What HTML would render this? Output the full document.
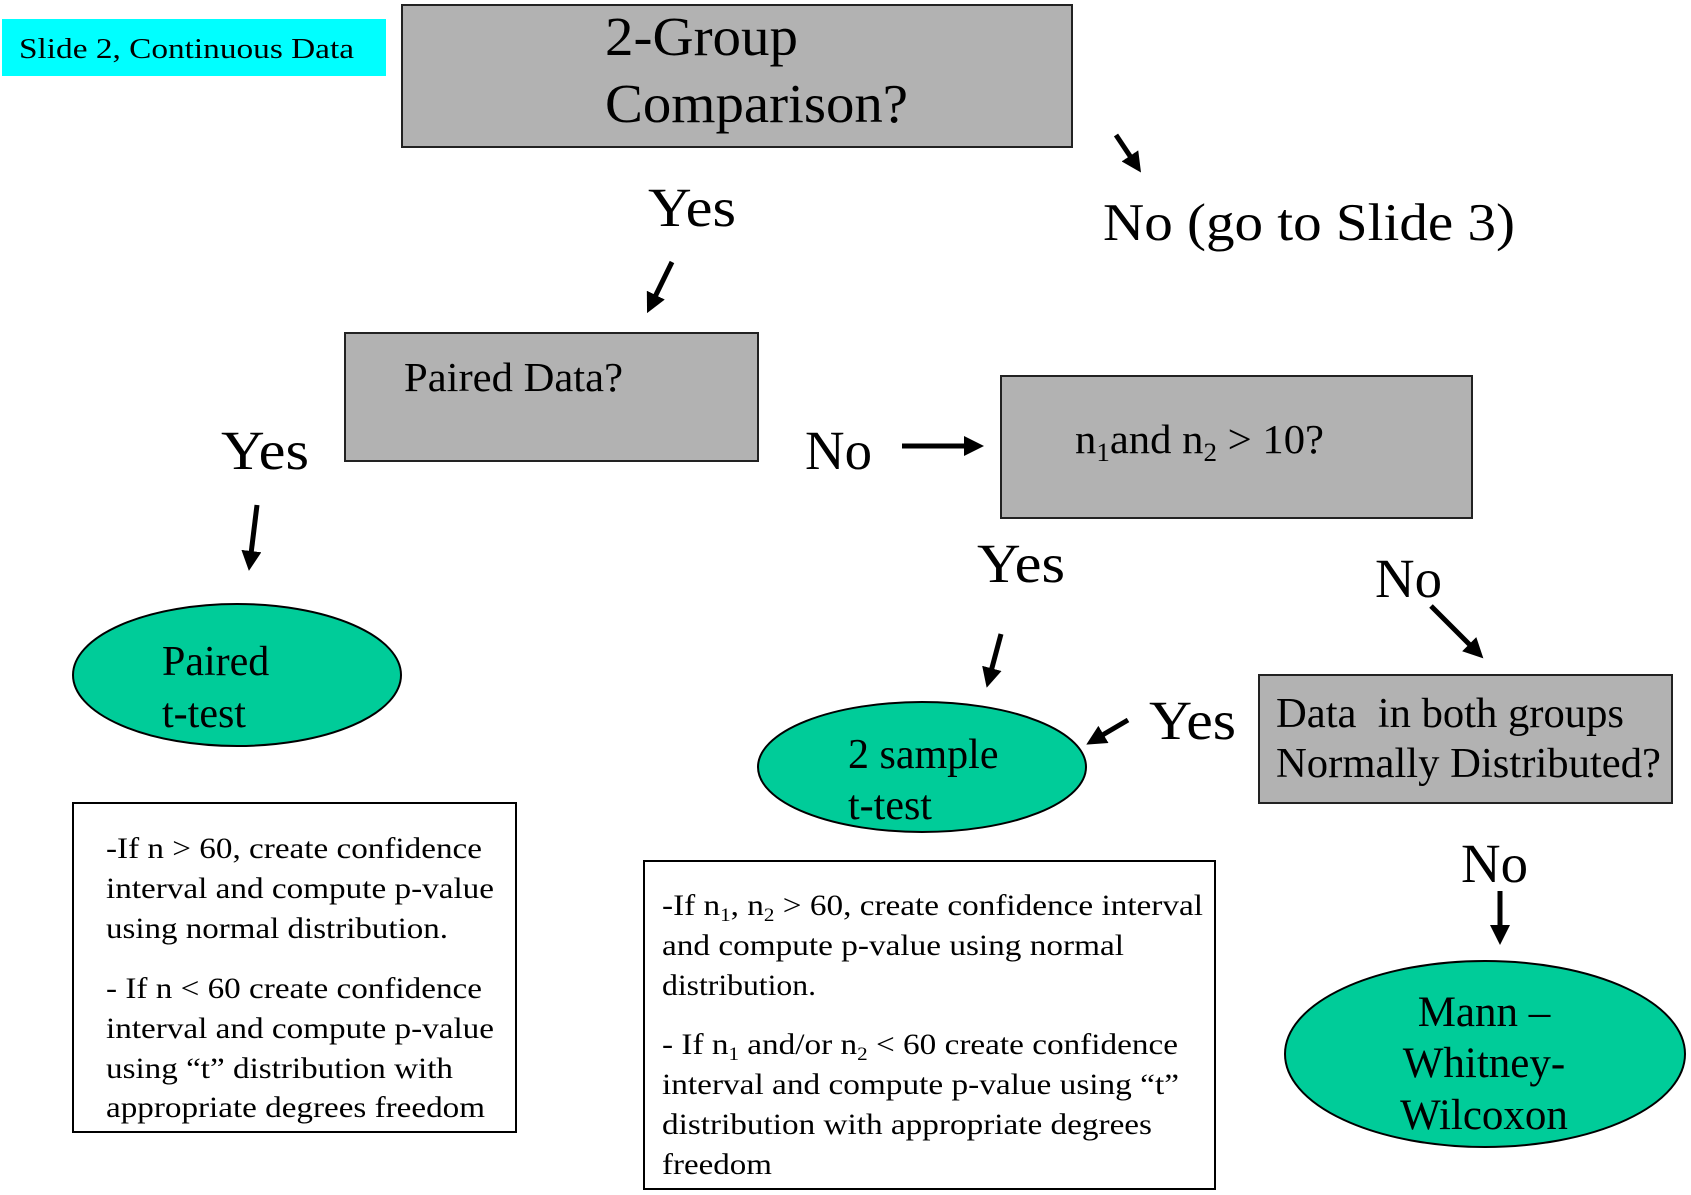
<!DOCTYPE html>
<html><head><meta charset="utf-8"><style>
html,body{margin:0;padding:0;background:#fff;}
svg{display:block;}
text{font-family:"Liberation Serif",serif;fill:#000;}
</style></head><body>
<svg width="1691" height="1195" viewBox="0 0 1691 1195" xmlns="http://www.w3.org/2000/svg">
<defs>
<marker id="ah" markerWidth="4" markerHeight="4" refX="2.2" refY="2" orient="auto" markerUnits="strokeWidth">
<path d="M0,0 L4,2 L0,4 z" fill="#000"/></marker>
</defs>
<rect x="2" y="19" width="384" height="57" fill="#00ffff"/>
<text x="19" y="58" font-size="28" textLength="335" lengthAdjust="spacingAndGlyphs">Slide 2, Continuous Data</text>

<rect x="402" y="5" width="670" height="142" fill="#b2b2b2" stroke="#222" stroke-width="2"/>
<text x="605" y="55" font-size="55" textLength="193" lengthAdjust="spacingAndGlyphs">2-Group</text>
<text x="605" y="122" font-size="55" textLength="303" lengthAdjust="spacingAndGlyphs">Comparison?</text>

<g stroke="#000" stroke-width="5" marker-end="url(#ah)">
<line x1="1116" y1="135" x2="1136" y2="165"/>
<line x1="672" y1="262" x2="651" y2="305"/>
<line x1="257" y1="505" x2="250" y2="562"/>
<line x1="902" y1="446" x2="975" y2="446"/>
<line x1="1431" y1="606" x2="1477" y2="652"/>
<line x1="1001" y1="634" x2="989" y2="679"/>
<line x1="1128" y1="720" x2="1094" y2="740"/>
<line x1="1500" y1="891" x2="1500" y2="936"/>
</g>

<text x="1103" y="240" font-size="53" textLength="412" lengthAdjust="spacingAndGlyphs">No (go to Slide 3)</text>
<text x="648" y="226" font-size="55" textLength="88" lengthAdjust="spacingAndGlyphs">Yes</text>

<rect x="345" y="333" width="413" height="128" fill="#b2b2b2" stroke="#222" stroke-width="2"/>
<text x="404" y="391" font-size="41" textLength="219" lengthAdjust="spacingAndGlyphs">Paired Data?</text>

<text x="221" y="469" font-size="55" textLength="88" lengthAdjust="spacingAndGlyphs">Yes</text>
<text x="805" y="469" font-size="55" textLength="67" lengthAdjust="spacingAndGlyphs">No</text>

<ellipse cx="237" cy="675" rx="164" ry="71" fill="#00cc99" stroke="#000" stroke-width="2"/>
<text x="162" y="675" font-size="42">Paired</text>
<text x="162" y="727" font-size="42">t-test</text>

<rect x="1001" y="376" width="471" height="142" fill="#b2b2b2" stroke="#222" stroke-width="2"/>
<text x="1075" y="453" font-size="41" textLength="249" lengthAdjust="spacingAndGlyphs">n<tspan font-size="26" dy="8">1</tspan><tspan dy="-8">and n</tspan><tspan font-size="26" dy="8">2</tspan><tspan dy="-8"> &gt; 10?</tspan></text>

<text x="977" y="582" font-size="55" textLength="88" lengthAdjust="spacingAndGlyphs">Yes</text>
<text x="1375" y="597" font-size="55" textLength="67" lengthAdjust="spacingAndGlyphs">No</text>

<ellipse cx="922" cy="767" rx="164" ry="65" fill="#00cc99" stroke="#000" stroke-width="2"/>
<text x="848" y="768" font-size="42">2 sample</text>
<text x="848" y="819" font-size="42">t-test</text>

<text x="1149" y="739" font-size="55" textLength="87" lengthAdjust="spacingAndGlyphs">Yes</text>

<rect x="1259" y="675" width="413" height="128" fill="#b2b2b2" stroke="#222" stroke-width="2"/>
<text x="1276" y="727" font-size="42" textLength="348" lengthAdjust="spacingAndGlyphs" xml:space="preserve">Data  in both groups</text>
<text x="1276" y="777" font-size="42" textLength="385" lengthAdjust="spacingAndGlyphs">Normally Distributed?</text>

<text x="1461" y="882" font-size="55" textLength="67" lengthAdjust="spacingAndGlyphs">No</text>

<ellipse cx="1485" cy="1054" rx="200" ry="93" fill="#00cc99" stroke="#000" stroke-width="2"/>
<g font-size="43" text-anchor="middle">
<text x="1484" y="1026">Mann –</text>
<text x="1484" y="1077">Whitney-</text>
<text x="1484" y="1129">Wilcoxon</text>
</g>

<rect x="73" y="803" width="443" height="329" fill="#fff" stroke="#000" stroke-width="2"/>
<g font-size="30" lengthAdjust="spacingAndGlyphs">
<text x="106" y="858" textLength="376" lengthAdjust="spacingAndGlyphs">-If n &gt; 60, create confidence</text>
<text x="106" y="898" textLength="388" lengthAdjust="spacingAndGlyphs">interval and compute p-value</text>
<text x="106" y="938" textLength="342" lengthAdjust="spacingAndGlyphs">using normal distribution.</text>
<text x="106" y="998" textLength="376" lengthAdjust="spacingAndGlyphs">- If n &lt; 60 create confidence</text>
<text x="106" y="1038" textLength="388" lengthAdjust="spacingAndGlyphs">interval and compute p-value</text>
<text x="106" y="1078" textLength="347" lengthAdjust="spacingAndGlyphs">using “t” distribution with</text>
<text x="106" y="1117" textLength="379" lengthAdjust="spacingAndGlyphs">appropriate degrees freedom</text>
</g>

<rect x="644" y="861" width="571" height="328" fill="#fff" stroke="#000" stroke-width="2"/>
<g font-size="30">
<text x="662" y="915" textLength="541" lengthAdjust="spacingAndGlyphs">-If n<tspan font-size="19" dy="6">1</tspan><tspan dy="-6">, n</tspan><tspan font-size="19" dy="6">2</tspan><tspan dy="-6"> &gt; 60, create confidence interval</tspan></text>
<text x="662" y="955" textLength="462" lengthAdjust="spacingAndGlyphs">and compute p-value using normal</text>
<text x="662" y="995" textLength="154" lengthAdjust="spacingAndGlyphs">distribution.</text>
<text x="662" y="1054" textLength="516" lengthAdjust="spacingAndGlyphs">- If n<tspan font-size="19" dy="6">1</tspan><tspan dy="-6"> and/or n</tspan><tspan font-size="19" dy="6">2</tspan><tspan dy="-6"> &lt; 60 create confidence</tspan></text>
<text x="662" y="1094" textLength="517" lengthAdjust="spacingAndGlyphs">interval and compute p-value using “t”</text>
<text x="662" y="1134" textLength="490" lengthAdjust="spacingAndGlyphs">distribution with appropriate degrees</text>
<text x="662" y="1174" textLength="110" lengthAdjust="spacingAndGlyphs">freedom</text>
</g>
</svg>
</body></html>
